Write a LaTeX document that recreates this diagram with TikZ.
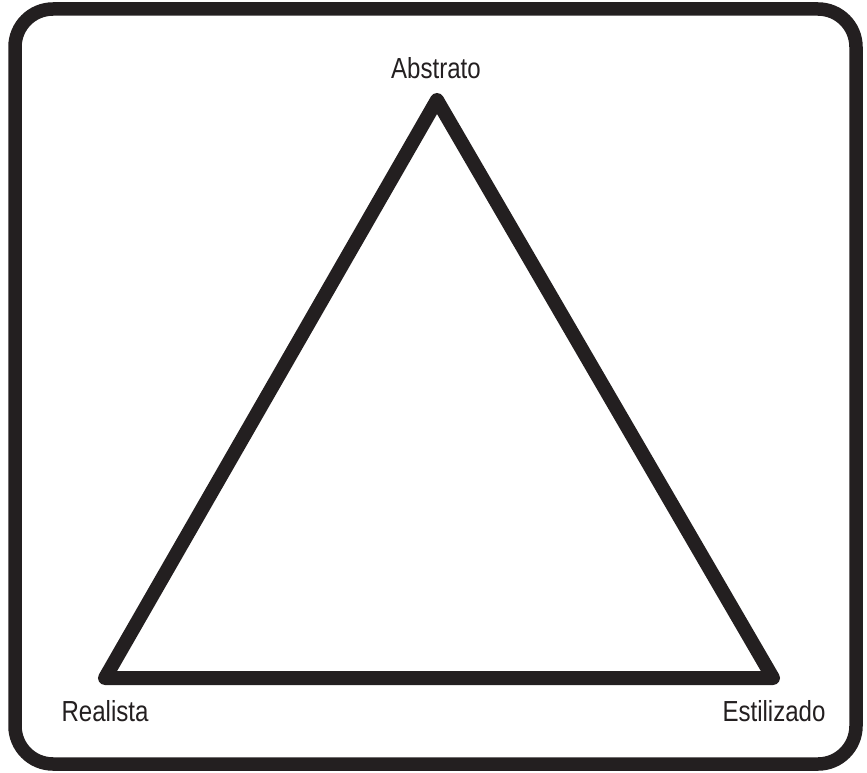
\documentclass[tikz,border=0pt]{standalone}
\usepackage{fontspec}
\setmainfont{Liberation Sans}
\definecolor{ink}{HTML}{231F20}
\begin{document}
\begin{tikzpicture}[x=1pt,y=-1pt,
  frame/.style={draw=ink,line width=13.5pt,rounded corners=38pt},
  tri/.style={draw=ink,line width=14pt,line join=round},
  lbl/.style={font=\fontsize{29}{34}\selectfont,text=ink,inner sep=0pt,anchor=base,xscale=0.83}]
\useasboundingbox (0,0) rectangle (867,773);
\draw[frame] (15,9) rectangle (856,764);
\coordinate (top) at (437,100);
\coordinate (bl) at (105,678);
\coordinate (br) at (773,678);
\draw[tri] (top) -- (br) -- (bl) -- cycle;
\node[lbl] (abs) at (436,79) {Abstrato};
\node[lbl] (rea) at (105,721) {Realista};
\node[lbl] (est) at (774,721) {Estilizado};
\end{tikzpicture}
\end{document}
